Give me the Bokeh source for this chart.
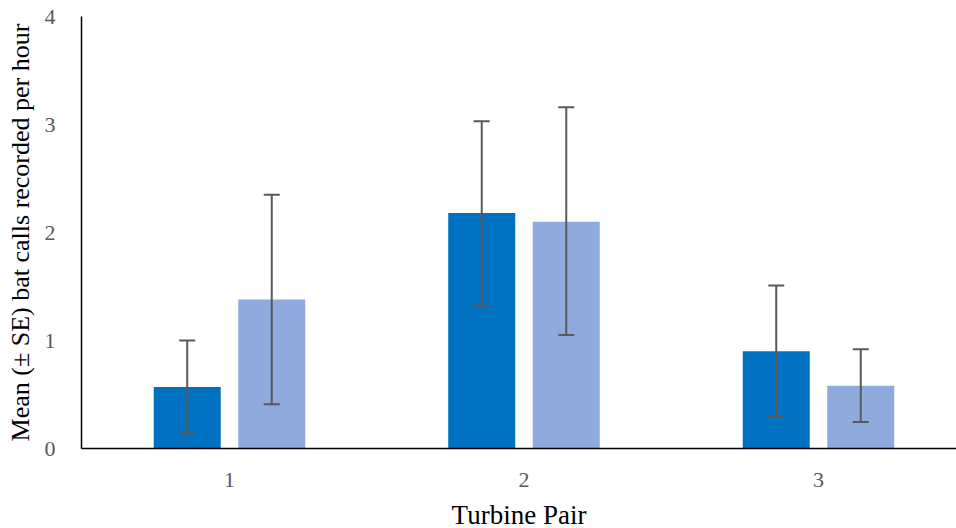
from bokeh.plotting import figure
from bokeh.models import ColumnDataSource, Range1d, Whisker, TeeHead, FixedTicker
from bokeh.transform import dodge
from bokeh.embed import file_html
from bokeh.resources import INLINE

pairs = [1, 2, 3]
tick_labels = {1: "1", 2: "2", 3: "3"}
series_a_mean = [0.57, 2.18, 0.90]
series_a_upper = [1.00, 3.03, 1.51]
series_a_lower = [0.14, 1.32, 0.30]
series_b_mean = [1.38, 2.10, 0.58]
series_b_upper = [2.35, 3.16, 0.92]
series_b_lower = [0.41, 1.05, 0.245]

src_a = ColumnDataSource(dict(x=pairs, top=series_a_mean, upper=series_a_upper, lower=series_a_lower))
src_b = ColumnDataSource(dict(x=pairs, top=series_b_mean, upper=series_b_upper, lower=series_b_lower))

p = figure(width=956, height=528, output_backend="svg", toolbar_location=None,
           x_range=Range1d(0.4975, 3.4686), y_range=Range1d(0, 4),
           min_border_left=81, min_border_right=0, min_border_top=16, min_border_bottom=80)
p.frame_width = 875
p.frame_height = 432

off = 0.1435
bw = 0.2275
p.vbar(x=dodge("x", -off, range=p.x_range), top="top", width=bw, source=src_a,
       fill_color="#0070C0", line_color=None)
p.vbar(x=dodge("x", off, range=p.x_range), top="top", width=bw, source=src_b,
       fill_color="#8FAADC", line_color=None)

for src, o in ((src_a, -off), (src_b, off)):
    w = Whisker(base=dodge("x", o, range=p.x_range), upper="upper", lower="lower", source=src,
                line_color="#595959", line_width=2, level="overlay",
                upper_head=TeeHead(size=16, line_color="#595959", line_width=2),
                lower_head=TeeHead(size=16, line_color="#595959", line_width=2))
    p.add_layout(w)

p.xgrid.visible = False
p.ygrid.visible = False
p.outline_line_color = None

p.xaxis.ticker = FixedTicker(ticks=pairs)
p.xaxis.major_label_overrides = tick_labels
p.yaxis.ticker = FixedTicker(ticks=[0, 1, 2, 3, 4])
for ax in (p.xaxis[0], p.yaxis[0]):
    ax.major_tick_line_color = None
    ax.minor_tick_line_color = None
    ax.axis_line_color = "black"
    ax.axis_line_width = 1.5
    ax.major_label_text_font = "Liberation Serif"
    ax.major_label_text_font_size = "22px"
    ax.major_label_text_color = "#595959"
    ax.axis_label_text_font = "Liberation Serif"
    ax.axis_label_text_font_style = "normal"
    ax.axis_label_text_color = "black"
p.xaxis.axis_label_text_font_size = "27px"
p.yaxis.axis_label_text_font_size = "26px"
p.xaxis.major_label_standoff = 18
p.yaxis.major_label_standoff = 20
p.xaxis.axis_label = "Turbine Pair"
p.yaxis.axis_label = "Mean (± SE) bat calls recorded per hour"
p.xaxis.axis_label_standoff = 10
p.yaxis.axis_label_standoff = 7

open("out.html", "w").write(file_html(p, INLINE))
